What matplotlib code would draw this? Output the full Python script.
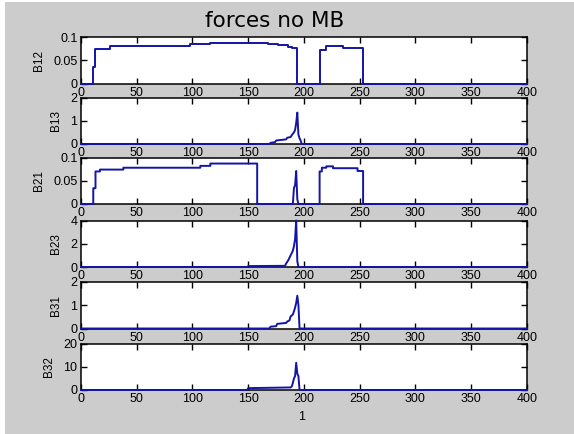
import matplotlib.pyplot as plt
from matplotlib.patches import Rectangle

# force traces, sample index 0..400
x12 = [0, 11, 11, 13, 13, 26, 26, 98, 98, 116, 116, 168, 168, 177, 177, 186, 186, 189, 189, 194, 194,
       214, 214, 220, 220, 235, 235, 253, 253, 400]
y12 = [0, 0, 0.035, 0.035, 0.075, 0.075, 0.08, 0.08, 0.085, 0.085, 0.088, 0.088, 0.086, 0.086, 0.083,
       0.083, 0.079, 0.079, 0.076, 0.076, 0, 0, 0.073, 0.073, 0.081, 0.081, 0.076, 0.076, 0, 0]

x13 = [0, 169, 170, 174, 175, 184, 185, 188, 189, 191, 192, 193, 194, 195, 196, 197, 198, 400]
y13 = [0, 0, 0.05, 0.08, 0.15, 0.2, 0.27, 0.3, 0.38, 0.5, 0.6, 0.9, 1.35, 0.4, 0.25, 0.15, 0, 0]

x21 = [0, 11, 11, 13, 13, 17, 17, 38, 38, 107, 107, 116, 116, 158, 158,
       190, 191, 192, 193, 194, 195,
       214, 214, 216, 216, 220, 220, 226, 226, 248, 248, 253, 253, 400]
y21 = [0, 0, 0.034, 0.034, 0.07, 0.07, 0.074, 0.074, 0.078, 0.078, 0.082, 0.082, 0.087, 0.087, 0,
       0, 0.035, 0.04, 0.071, 0.01, 0,
       0, 0.07, 0.07, 0.078, 0.078, 0.081, 0.081, 0.077, 0.077, 0.071, 0.071, 0, 0]

x23 = [0, 149, 150, 183, 184, 186, 187, 189, 190, 191, 192, 193, 194, 195, 196, 400]
y23 = [0, 0, 0.08, 0.1, 0.3, 0.6, 0.8, 1.2, 1.4, 1.8, 2.4, 4.0, 0.5, 0, 0, 0]

x31 = [0, 169, 170, 175, 176, 184, 185, 187, 188, 190, 191, 192, 193, 194, 195, 196, 400]
y31 = [0, 0, 0.08, 0.1, 0.2, 0.24, 0.3, 0.35, 0.52, 0.6, 0.74, 0.9, 1.1, 1.41, 1.0, 0, 0]

x32 = [0, 149, 150, 188, 189, 190, 191, 192, 193, 194, 195, 196, 400]
y32 = [0, 0, 0.8, 1.1, 1.5, 3, 5, 6, 11.7, 7, 6, 0, 0]

names = ["B12", "B13", "B21", "B23", "B31", "B32"]
series = [(x12, y12), (x13, y13), (x21, y21), (x23, y23), (x31, y31), (x32, y32)]
yticks = [[0, 0.05, 0.1], [0, 1, 2], [0, 0.05, 0.1], [0, 2, 4], [0, 1, 2], [0, 10, 20]]
ytick_labels = [["0", "0.05", "0.1"], ["0", "1", "2"], ["0", "0.05", "0.1"],
                ["0", "2", "4"], ["0", "1", "2"], ["0", "10", "20"]]
xticks = [0, 50, 100, 150, 200, 250, 300, 350, 400]

plt.rcParams['font.family'] = ['Liberation Sans', 'DejaVu Sans']

W, H = 574, 434
fig = plt.figure(figsize=(W / 100, H / 100), dpi=100, facecolor="white")
fig.patches.append(Rectangle((5 / W, 0), 1, 1 - 2 / H, transform=fig.transFigure,
                             facecolor="#cccccc", edgecolor="none", zorder=-10))

tops = [37, 97.5, 157.5, 220.5, 282, 343.5]
ax_h = 46.5
left, right = 81, 527

for i, (name, (xs, ys)) in enumerate(zip(names, series)):
    ax = fig.add_axes([left / W, 1 - (tops[i] + ax_h) / H, (right - left) / W, ax_h / H])
    ax.set_facecolor("white")
    ax.plot(xs, ys, color="#1414a8", lw=1.4, clip_on=False, zorder=3)
    ax.set_xlim(0, 400)
    ax.set_ylim(yticks[i][0], yticks[i][-1])
    ax.set_xticks(xticks)
    ax.set_xticklabels([str(t) for t in xticks])
    ax.set_yticks(yticks[i])
    ax.set_yticklabels(ytick_labels[i])
    ax.tick_params(direction="in", length=4, width=1, top=True, right=True,
                   labelsize=9, pad=2.5, colors="black")
    for s in ax.spines.values():
        s.set_linewidth(1.1)
    ax.set_ylabel(name, fontsize=8.5, labelpad=6)

fig.text(275 / W, 1 - 27 / H, "forces no MB", fontsize=15.5, family="DejaVu Sans",
         ha="center", va="baseline")
fig.text(302 / W, 1 - 417 / H, "1", fontsize=9, ha="center", va="center")

fig.savefig("out.png", dpi=100, facecolor=fig.get_facecolor())
